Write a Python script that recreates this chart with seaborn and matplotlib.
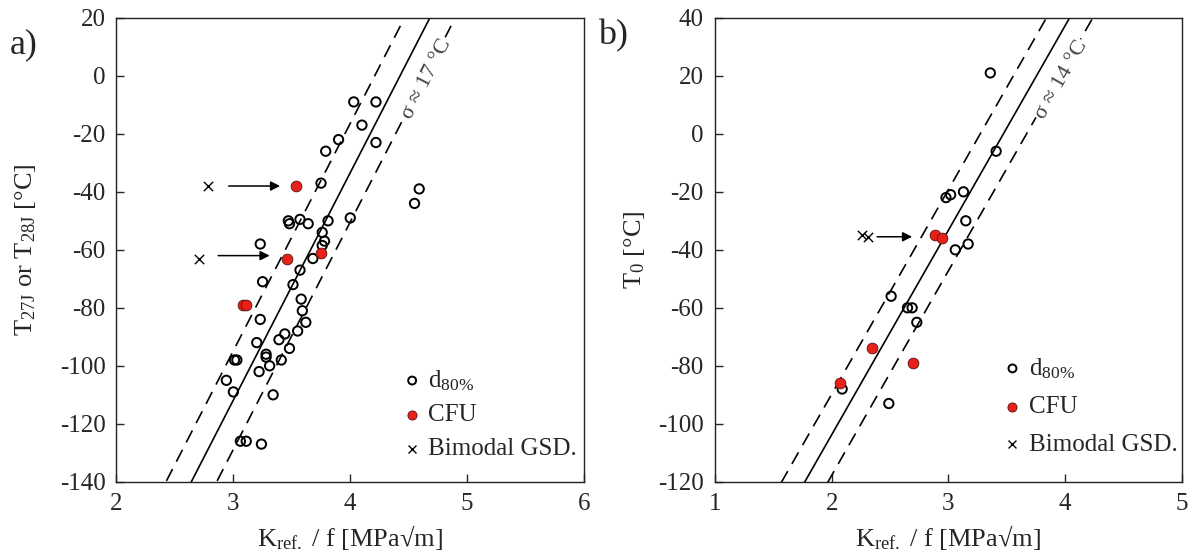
import numpy as np
import pandas as pd
import matplotlib
matplotlib.use('Agg')
import matplotlib.pyplot as plt
import seaborn as sns

sns.set_style('ticks')
plt.rcParams['font.family'] = ['Liberation Serif', 'DejaVu Serif']
plt.rcParams['mathtext.fontset'] = 'custom'
plt.rcParams['mathtext.rm'] = 'Liberation Serif'
plt.rcParams['mathtext.it'] = 'Liberation Serif:italic'
plt.rcParams['axes.unicode_minus'] = False
plt.rcParams['xtick.direction'] = 'in'
plt.rcParams['ytick.direction'] = 'in'

# ---- panel a) : T27J / T28J ----
a_d80_k = [4.03, 4.22, 4.10, 3.90, 4.22, 3.79, 3.75, 4.59, 4.55, 3.47, 3.48, 3.57, 3.64, 3.81,
           4.00, 3.76, 3.78, 3.76, 3.23, 3.68, 3.57, 3.25, 3.51, 3.58, 3.59, 3.23, 3.62, 3.55,
           3.44, 3.39, 3.20, 3.48, 3.28, 3.28, 3.41, 3.01, 3.03, 3.31, 3.22, 2.94, 3.00, 3.34,
           3.06, 3.11, 3.24]
a_d80_t = [-9, -9, -17, -22, -23, -26, -37, -39, -44, -50, -51, -49.5, -51, -50,
           -49, -54, -57, -58.5, -58, -63, -67, -71, -72, -77, -81, -84, -85, -88,
           -89, -91, -92, -94, -96, -97, -98, -98, -98, -100, -102, -105, -109, -110,
           -126, -126, -127]
a_cfu_k = [3.54, 3.75, 3.46, 3.08, 3.11]
a_cfu_t = [-38, -61, -63, -79, -79]
a_bim_k = [2.78, 2.71]
a_bim_t = [-38, -63]
a_arrows = [(2.96, -38, 3.40, -38), (2.87, -62, 3.31, -62)]
a_fit = (-347.0, 78.4)   # intercept, slope
a_sigma = 17

# ---- panel b) : T0 ----
b_d80_k = [3.36, 3.41, 2.98, 3.02, 3.13, 3.15, 3.06, 3.17, 2.51, 2.65, 2.69, 2.73, 2.09, 2.49]
b_d80_t = [21, -6, -22, -21, -20, -30, -40, -38, -56, -60, -60, -65, -88, -93]
b_cfu_k = [2.89, 2.95, 2.35, 2.70, 2.07]
b_cfu_t = [-35, -36, -74, -79, -86]
b_bim_k = [2.26, 2.31]
b_bim_t = [-35, -35.5]
b_arrows = [(2.39, -35.5, 2.69, -35.5)]
b_fit = (-244.8, 70.5)
b_sigma = 14

xlabel = r'K$_{\mathrm{ref.}}$ / f [MPa√m]'

fig = plt.figure(figsize=(11.96, 5.57), dpi=100)
ax1 = fig.add_axes([0.0974, 0.135, 0.3909, 0.833])
ax2 = fig.add_axes([0.5978, 0.135, 0.3902, 0.833])


def panel(ax, d80, cfu, bim, arrows, fit, sigma, xlim, ylim, ylabel, txt, txt_pos, rot,
          leg_pos, leg_sp):
    xs = np.array(xlim, dtype=float)
    b0, b1 = fit
    sns.lineplot(x=xs, y=b0 + b1 * xs, color='black', lw=1.2, ax=ax, zorder=2)
    for s in (-sigma, sigma):
        sns.lineplot(x=xs, y=b0 + s + b1 * xs, color='black', lw=1.2,
                     linestyle=(0, (8, 5)), ax=ax, zorder=2)
    sns.scatterplot(x=d80[0], y=d80[1], marker='o', s=45, facecolor='none',
                    edgecolor='black', linewidth=1.4, ax=ax, zorder=3, label='d$_{80\\%}$')
    sns.scatterplot(x=cfu[0], y=cfu[1], marker='o', s=60, color='#e8201a',
                    edgecolor='#5a1010', linewidth=0.6, ax=ax, zorder=4, label='CFU')
    sns.scatterplot(x=bim[0], y=bim[1], marker='x', s=45, color='black',
                    linewidth=1.0, ax=ax, zorder=4, label='Bimodal GSD.')
    for x0, y0, x1, y1 in arrows:
        ax.annotate('', xy=(x1, y1), xytext=(x0, y0),
                    arrowprops=dict(arrowstyle='-|>', color='black', lw=1.1,
                                    mutation_scale=14, shrinkA=0, shrinkB=0))
    ax.text(txt_pos[0], txt_pos[1], txt, rotation=rot, ha='center', va='center',
            fontsize=16, color='#404040', zorder=3,
            bbox=dict(facecolor='white', edgecolor='none', pad=1))
    ax.set_xlim(xlim)
    ax.set_ylim(ylim)
    ax.set_xticks(np.arange(xlim[0], xlim[1] + 1))
    ax.set_yticks(np.arange(ylim[0], ylim[1] + 1, 20))
    ax.tick_params(labelsize=18, length=6, width=1, pad=8, top=False, right=False)
    ax.set_xlabel(xlabel, fontsize=19, labelpad=6)
    ax.set_ylabel(ylabel, fontsize=19)
    for sp in ax.spines.values():
        sp.set_linewidth(1.0)
        sp.set_color('#222222')
    ax.legend(loc='lower left', frameon=False, fontsize=18, markerscale=0.85,
              handlelength=0.6, handletextpad=0.35, labelspacing=leg_sp,
              borderaxespad=0.0, bbox_to_anchor=leg_pos)


panel(ax1, (a_d80_k, a_d80_t), (a_cfu_k, a_cfu_t), (a_bim_k, a_bim_t), a_arrows,
      a_fit, a_sigma, (2, 6), (-140, 20), r'T$_{\mathrm{27J}}$ or T$_{\mathrm{28J}}$ [°C]',
      'σ ≈ 17 °C', (4.66, -1.0), 62.8, (0.595, 0.025), 0.45)
panel(ax2, (b_d80_k, b_d80_t), (b_cfu_k, b_cfu_t), (b_bim_k, b_bim_t), b_arrows,
      b_fit, b_sigma, (1, 5), (-120, 40), r'T$_{0}$ [°C]',
      'σ ≈ 14 °C', (3.97, 18.5), 60.3, (0.6, 0.035), 0.6)
ax1.yaxis.set_label_coords(-0.168, 0.5)
ax2.yaxis.set_label_coords(-0.145, 0.5)

fig.text(0.008, 0.905, 'a)', fontsize=26)
fig.text(0.500, 0.92, 'b)', fontsize=26)

fig.savefig('out.png', dpi=100)
